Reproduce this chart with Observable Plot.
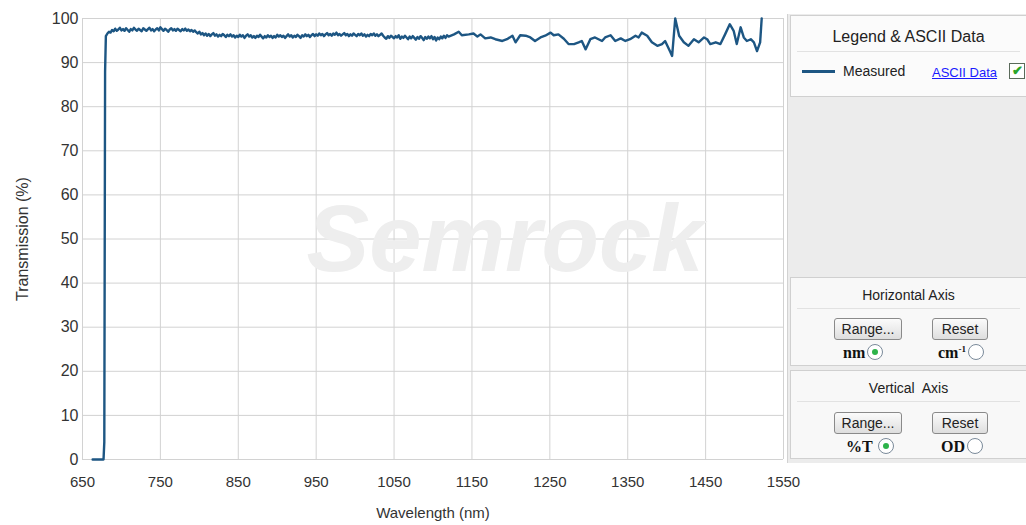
<!DOCTYPE html>
<html>
<head>
<meta charset="utf-8">
<script src="https://cdn.jsdelivr.net/npm/d3@7"></script>
<script src="https://cdn.jsdelivr.net/npm/@observablehq/plot@0.6"></script>
<style>
  html, body { margin: 0; padding: 0; background: #ffffff; }
  body { width: 1026px; height: 525px; position: relative; overflow: hidden; font-family: "Liberation Sans", Arial, sans-serif; color: #222; }
  #chart { position: absolute; left: 0; top: 0; }
  #side { position: absolute; left: 787px; top: 14px; width: 239px; height: 449px; background: #ececec; border-left: 1px solid #d2d2d2; }
  .panel { position: absolute; left: 2px; width: 237px; background: #f8f8f8; border: 1px solid #d0d0d0; box-sizing: border-box; }
  .ptitle { position: absolute; left: 0; width: 100%; text-align: center; color: #222; }
  .sep { position: absolute; left: 6px; right: 6px; height: 1px; background: #e2e2e2; }
  .btn { position: absolute; height: 22px; box-sizing: border-box; border: 1px solid #8a8a8a; border-radius: 3px; background: linear-gradient(#fbfbfb, #dedede); font-size: 14px; line-height: 20px; text-align: center; color: #222; }
  .opt { position: absolute; font-family: "Liberation Serif", "Times New Roman", serif; font-weight: bold; font-size: 16px; color: #111; }
  .radio { display: inline-block; width: 14px; height: 14px; border: 1px solid #7a8a9a; border-radius: 50%; background: #fff; vertical-align: -2px; position: relative; margin-left: 2px; }
  .radio.on::after { content: ""; position: absolute; left: 4px; top: 4px; width: 6px; height: 6px; border-radius: 50%; background: #2db34a; }
</style>
</head>
<body>
<div id="chart"></div>
<div id="side">
  <div class="panel" style="top:1px;height:82px;background:#fbfbfb;">
    <div class="ptitle" style="top:12px;font-size:16px;">Legend &amp; ASCII Data</div>
    <div class="sep" style="top:35px;"></div>
    <div style="position:absolute;left:11px;top:54px;width:33px;height:3px;background:#1d5683;"></div>
    <div style="position:absolute;left:52px;top:47px;font-size:14px;color:#222;">Measured</div>
    <div style="position:absolute;left:141px;top:49px;font-size:13px;color:#1a1aff;text-decoration:underline;">ASCII Data</div>
    <div style="position:absolute;left:218px;top:47px;width:16px;height:16px;box-sizing:border-box;border:1px solid #5a6a5a;background:#fff;color:#2aa52a;font-size:13px;line-height:14px;text-align:center;font-weight:bold;">✔</div>
  </div>
  <div class="panel" style="top:263px;height:89px;">
    <div class="ptitle" style="top:9px;font-size:14px;">Horizontal Axis</div>
    <div class="sep" style="top:30px;"></div>
    <div class="btn" style="left:43px;top:40px;width:68px;">Range...</div>
    <div class="btn" style="left:141px;top:40px;width:56px;">Reset</div>
    <div class="opt" style="left:52px;top:66px;">nm<span class="radio on"></span></div>
    <div class="opt" style="left:147px;top:66px;">cm<sup style="font-size:9px;vertical-align:6px;">-1</sup><span class="radio"></span></div>
  </div>
  <div class="panel" style="top:356px;height:89px;">
    <div class="ptitle" style="top:9px;font-size:14px;">Vertical&nbsp; Axis</div>
    <div class="sep" style="top:30px;"></div>
    <div class="btn" style="left:43px;top:41px;width:68px;">Range...</div>
    <div class="btn" style="left:141px;top:41px;width:56px;">Reset</div>
    <div class="opt" style="left:55px;top:67px;">%T <span class="radio on"></span></div>
    <div class="opt" style="left:150px;top:67px;">OD<span class="radio"></span></div>
  </div>
</div>
<script>
// Wavelength (nm) and transmission (%)
const edgeWavelength = [663, 667, 671, 675, 677, 678, 679];
const edgeTransmission = [0, 0, 0, 0, 0, 4, 88];

const denseWavelength = [
  680,682,684,686,688,690,692,694,696,698,
  700,702,704,706,708,710,712,714,716,718,
  720,722,724,726,728,730,732,734,736,738,
  740,742,744,746,748,750,752,754,756,758,
  760,762,764,766,768,770,772,774,776,778,
  780,782,784,786,788,790,792,794,796,798,
  800,802,804,806,808,810,812,814,816,818,
  820,822,824,826,828,830,832,834,836,838,
  840,842,844,846,848,850,852,854,856,858,
  860,862,864,866,868,870,872,874,876,878,
  880,882,884,886,888,890,892,894,896,898,
  900,902,904,906,908,910,912,914,916,918,
  920,922,924,926,928,930,932,934,936,938,
  940,942,944,946,948,950,952,954,956,958,
  960,962,964,966,968,970,972,974,976,978,
  980,982,984,986,988,990,992,994,996,998,
  1000,1002,1004,1006,1008,1010,1012,1014,1016,1018,
  1020,1022,1024,1026,1028,1030,1032,1034,1036,1038,
  1040,1042,1044,1046,1048,1050,1052,1054,1056,1058,
  1060,1062,1064,1066,1068,1070,1072,1074,1076,1078,
  1080,1082,1084,1086,1088,1090,1092,1094,1096,1098,
  1100,1102,1104,1106,1108,1110,1112,1114,1116,1118,
  1120];
const denseTransmission = [
  96.0,96.6,97.0,96.8,97.4,97.1,97.7,97.2,97.5,97.9,
  97.3,97.6,97.2,97.8,97.4,97.0,97.6,97.3,97.9,97.5,
  97.2,97.7,97.4,97.1,97.8,97.5,97.2,97.6,97.9,97.3,
  97.6,97.1,97.5,97.8,97.3,98.0,97.6,97.2,97.7,97.4,
  97.0,97.5,97.8,97.3,97.6,97.2,97.7,97.4,97.1,97.6,
  97.3,97.7,97.2,97.5,97.1,97.4,97.0,97.3,96.9,96.6,
  97.0,96.4,96.7,96.2,96.6,96.1,96.5,96.0,96.4,96.7,
  96.1,96.4,95.9,96.3,96.0,96.5,96.2,95.8,96.3,96.0,
  96.4,95.9,96.2,95.7,96.1,95.8,96.3,95.9,96.2,95.6,
  96.1,96.4,95.9,96.2,95.7,96.0,95.6,96.1,95.8,96.3,
  95.9,95.5,96.0,95.7,96.2,95.8,96.1,95.6,96.0,95.7,
  96.3,95.9,96.2,95.8,96.1,95.6,96.0,96.4,95.9,96.2,
  95.7,96.1,95.8,96.3,96.0,95.6,96.2,95.9,96.4,96.0,
  96.3,95.8,96.2,96.5,96.0,96.4,96.1,96.6,96.2,96.5,
  96.0,96.4,96.7,96.2,96.5,96.1,96.6,96.3,96.8,96.2,
  96.5,96.1,96.4,96.7,96.2,96.5,96.0,96.4,96.1,96.6,
  96.3,96.0,96.5,96.2,96.6,96.1,96.4,95.9,96.3,96.0,
  96.5,96.2,96.6,96.1,96.4,96.0,96.3,96.6,96.1,95.7,
  95.4,96.0,95.6,96.1,95.8,95.5,96.0,95.7,96.2,95.4,
  95.9,95.6,96.1,95.7,95.3,95.9,95.5,96.0,95.6,95.2,
  95.8,95.4,96.0,95.6,95.1,95.8,95.4,95.9,95.5,96.0,
  95.3,95.8,95.0,95.7,95.3,95.9,95.5,96.1,95.6,96.2,
  95.9];

const sparseWavelength = [1127,1133,1137,1146,1152,1157,1161,1167,1174,1180,1189,1195,1202,1206,1212,1219,1225,1231,1238,1244,1251,1255,1261,1268,1274,1281,1287,1291,1296,1302,1308,1317,1321,1328,1334,1341,1347,1353,1360,1364,1368,1375,1381,1388,1394,1398,1405,1407,1411,1416,1422,1428,1435,1441,1448,1452,1456,1463,1469,1475,1481,1486,1490,1495,1499,1503,1508,1512,1516,1520,1522];
const sparseTransmission = [96.4,97.0,96.2,96.4,96.6,95.9,96.4,95.5,95.7,95.3,94.9,95.3,96.1,94.6,96.2,96.1,95.7,94.9,95.7,96.1,96.8,96.2,96.4,95.4,94.2,94.2,94.6,94.9,93.0,95.3,95.7,94.9,95.7,96.2,94.9,95.5,94.9,95.3,96.1,95.7,96.8,96.1,94.6,93.8,94.2,94.9,92.3,91.5,100,96.1,94.6,93.8,95.3,94.6,95.7,95.3,94.2,94.6,94.2,96.4,98.7,97.2,94.2,98.0,95.7,94.9,95.3,94.6,92.6,94.6,100];

const xTicks = [650, 750, 850, 950, 1050, 1150, 1250, 1350, 1450, 1550];
const yTicks = [0, 10, 20, 30, 40, 50, 60, 70, 80, 90, 100];

const wavelength = [...edgeWavelength, ...denseWavelength, ...sparseWavelength];
const transmission = [...edgeTransmission, ...denseTransmission, ...sparseTransmission];
const data = wavelength.map((w, i) => ({w, t: transmission[i]}));

const chart = Plot.plot({
  width: 812,
  height: 525,
  marginLeft: 82,
  marginRight: 29,
  marginTop: 18,
  marginBottom: 66,
  style: {fontFamily: "'Liberation Sans', Arial, sans-serif", fontSize: "15px", color: "#333", background: "transparent"},
  x: {domain: [650, 1550]},
  y: {domain: [0, 100]},
  marks: [
    Plot.gridX(xTicks, {stroke: "#d2d2d2", strokeOpacity: 1}),
    Plot.gridY(yTicks, {stroke: "#d2d2d2", strokeOpacity: 1}),
    Plot.text(["Semrock"], {frameAnchor: "middle", dx: 72, dy: 2, fontSize: 94, fontWeight: "bold", fontStyle: "italic", fill: "#eeeeee", fontFamily: "'Liberation Sans', Arial, sans-serif"}),
    Plot.axisX(xTicks, {tickSize: 0, tickPadding: 17, fontSize: 15, tickFormat: "d", label: "Wavelength (nm)", labelAnchor: "center", labelOffset: 58, labelArrow: "none", fontSize: 15}),
    Plot.axisY(yTicks, {tickSize: 0, tickPadding: 4, fontSize: 16, tickFormat: "d", label: "Transmission (%)", labelAnchor: "center", labelOffset: 66, labelArrow: "none"}),
    Plot.line(data, {x: "w", y: "t", stroke: "#1d5683", strokeWidth: 2.4, strokeLinejoin: "round"})
  ]
});
document.getElementById("chart").appendChild(chart);
</script>
</body>
</html>
